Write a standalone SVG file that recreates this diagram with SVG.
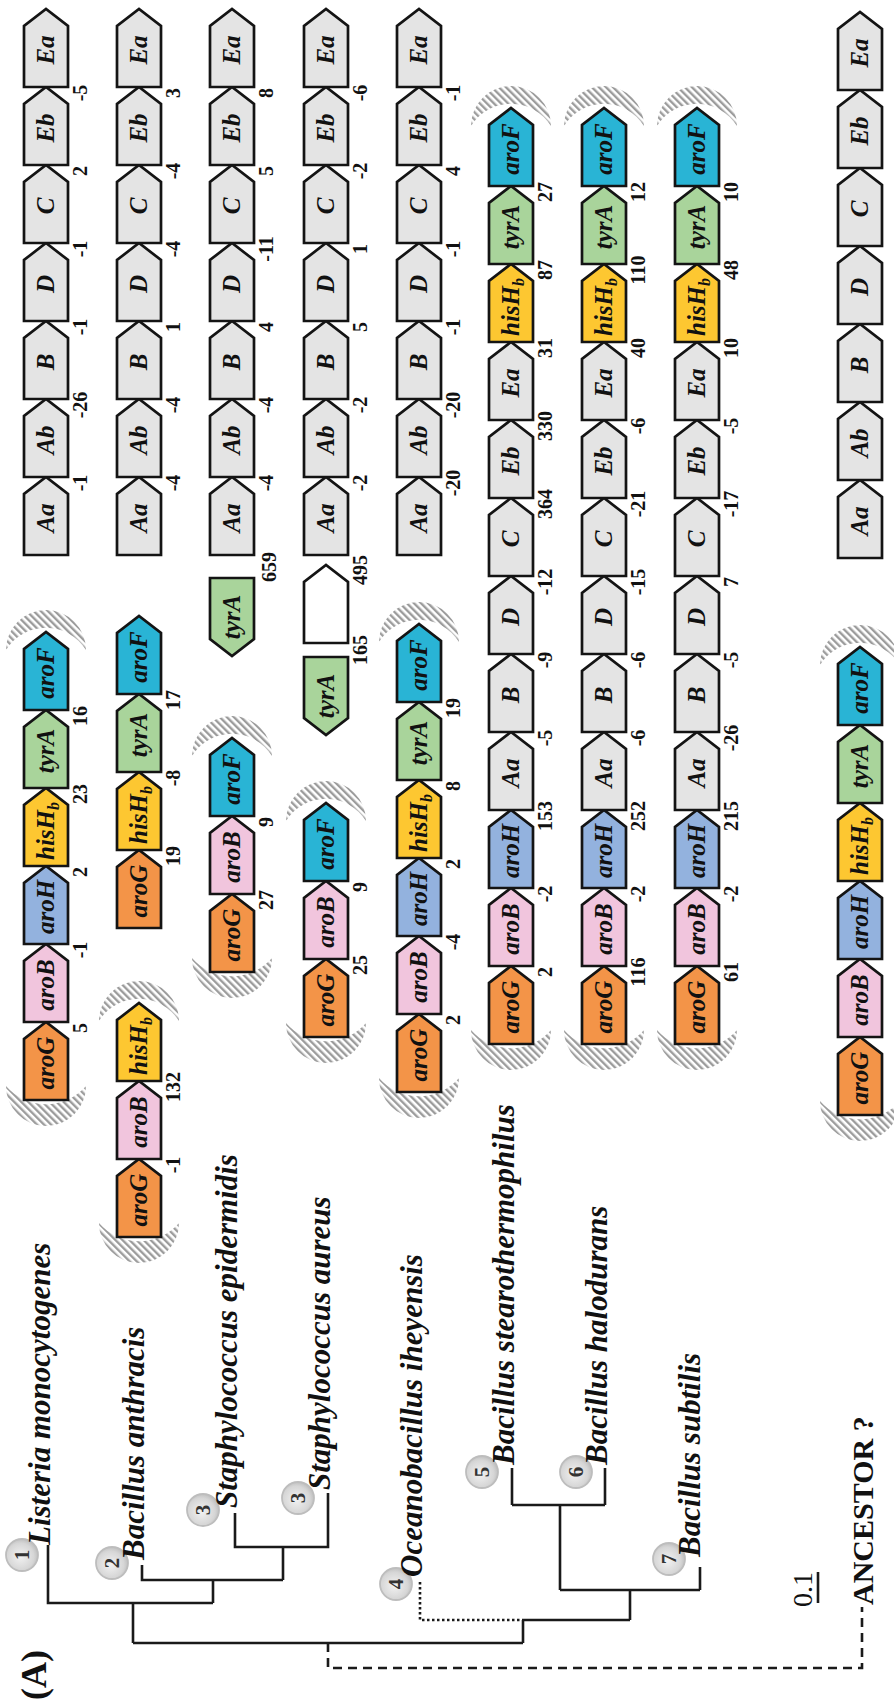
<svg xmlns="http://www.w3.org/2000/svg" xmlns:xlink="http://www.w3.org/1999/xlink" width="894" height="1704" viewBox="0 0 894 1704">
<style>
.s{stroke:#141414;stroke-width:2.7;stroke-linejoin:miter}
.gy{fill:#e4e4e4}.og{fill:#f39448}.pk{fill:#f1c5dd}.bl{fill:#93b2de}.ye{fill:#fdc731}.gr{fill:#a9d49b}.cy{fill:#29b4d5}.wh{fill:#ffffff}
.gl{font-family:"Liberation Serif",serif;font-weight:bold;font-style:italic;font-size:25px;text-anchor:middle;fill:#111}
.sub{font-size:16px}
.n{font-family:"Liberation Serif",serif;font-weight:bold;font-size:20px;text-anchor:middle;fill:#111}
.tx{font-family:"Liberation Serif",serif;font-weight:bold;font-style:italic;font-size:31px;fill:#111}
.ln{stroke:#1a1a1a;stroke-width:2.6;fill:none}
.dsh{stroke-dasharray:9,6}
.dot{stroke-dasharray:2.5,2.5}
.h{fill:url(#hatch)}
.cc{fill:url(#cg);stroke:#bdbdbd;stroke-width:1.8}
.cn{font-family:"Liberation Serif",serif;font-weight:bold;font-size:21px;text-anchor:middle;fill:#333}
</style>
<defs>
<path id="gene" d="M0,-22H61L78,0L61,22H0Z"/>
<path id="rgene" d="M0,-22H-61L-78,0L-61,22H0Z"/>
<pattern id="hatch" width="5" height="5" patternUnits="userSpaceOnUse" patternTransform="rotate(45)"><rect width="2.4" height="5" fill="#9c9c9c"/></pattern>
<path id="hl" d="M14,-40A40,40 0 1 0 14,40A53,53 0 0 1 14,-40Z"/>
<path id="hr" d="M-18,-40A40,40 0 1 1 -18,40A47,47 0 0 0 -18,-40Z"/>
<radialGradient id="cg" cx="0.45" cy="0.45" r="0.6"><stop offset="0" stop-color="#f2f2f2"/><stop offset="0.7" stop-color="#d6d6d6"/><stop offset="1" stop-color="#b8b8b8"/></radialGradient>
</defs>
<rect width="894" height="1704" fill="#ffffff"/>
<g transform="translate(0,1704) rotate(-90)">

<g id="hatching">
<use href="#hl" x="604" y="46" class="h"/><use href="#hr" x="1072" y="46" class="h"/>
<use href="#hl" x="467" y="139" class="h"/><use href="#hr" x="701" y="139" class="h"/>
<use href="#hl" x="732" y="232" class="h"/><use href="#hr" x="966" y="232" class="h"/>
<use href="#hl" x="667" y="326" class="h"/><use href="#hr" x="901" y="326" class="h"/>
<use href="#hl" x="612" y="419" class="h"/><use href="#hr" x="1080" y="419" class="h"/>
<use href="#hl" x="660" y="511" class="h"/><use href="#hr" x="1596" y="511" class="h"/>
<use href="#hl" x="660" y="604" class="h"/><use href="#hr" x="1596" y="604" class="h"/>
<use href="#hl" x="660" y="697" class="h"/><use href="#hr" x="1596" y="697" class="h"/>
<use href="#hl" x="589" y="860" class="h"/><use href="#hr" x="1057" y="860" class="h"/>
</g>

<g id="connectors">
<path class="ln" d="M159,48H101V213M61,133H101M61,133V523M139,142H124V283M101,213H124M191,235H157V328H211M124,283H157"/>
<path class="ln dot" d="M122,420H84V523"/>
<path class="ln" d="M84,523V630M61,523H84M84,630H114M114,560V700M137,700H114M114,560H199M199,512V605M236,512H199M236,605H199"/>
<path class="ln dsh" d="M61,328H36V862H97"/>
<path class="ln" d="M101,818H132" stroke-width="2"/>
</g>

<g id="tree-labels">
<text x="4" y="46" font-family="Liberation Serif, serif" font-weight="bold" font-size="36" fill="#111">(A)</text>
<g id="t1"><circle cx="149" cy="22" r="16" class="cc"/><text x="149" y="29" class="cn">1</text><text x="159" y="50" class="tx">Listeria monocytogenes</text></g>
<g id="t2"><circle cx="141" cy="112" r="16" class="cc"/><text x="141" y="119" class="cn">2</text><text x="144" y="144" class="tx">Bacillus anthracis</text></g>
<g id="t3"><circle cx="194" cy="203" r="16" class="cc"/><text x="194" y="210" class="cn">3</text><text x="196" y="237" class="tx">Staphylococcus epidermidis</text></g>
<g id="t4"><circle cx="206" cy="298" r="16" class="cc"/><text x="206" y="305" class="cn">3</text><text x="214" y="330" class="tx">Staphylococcus aureus</text></g>
<g id="t5"><circle cx="120" cy="396" r="16" class="cc"/><text x="120" y="403" class="cn">4</text><text x="127" y="422" class="tx">Oceanobacillus iheyensis</text></g>
<g id="t6"><circle cx="232" cy="482" r="16" class="cc"/><text x="232" y="489" class="cn">5</text><text x="239" y="514" class="tx">Bacillus stearothermophilus</text></g>
<g id="t7"><circle cx="232" cy="576" r="16" class="cc"/><text x="232" y="583" class="cn">6</text><text x="239" y="607" class="tx">Bacillus halodurans</text></g>
<g id="t8"><circle cx="145" cy="669" r="16" class="cc"/><text x="145" y="676" class="cn">7</text><text x="147" y="700" class="tx">Bacillus subtilis</text></g>
<text x="97" y="812" font-family="Liberation Serif, serif" font-size="28" fill="#111">0.1</text>
<text x="99" y="873" font-family="Liberation Serif, serif" font-weight="bold" font-size="30" fill="#111">ANCESTOR ?</text>
</g>

<g id="row1">
<g id="r1-aroG"><use href="#gene" x="604" y="46" class="s og"/><text x="641" y="54" class="gl">aroG</text></g>
<g id="r1-aroB"><use href="#gene" x="682" y="46" class="s pk"/><text x="719" y="54" class="gl">aroB</text></g>
<g id="r1-aroH"><use href="#gene" x="760" y="46" class="s bl"/><text x="797" y="54" class="gl">aroH</text></g>
<g id="r1-hisHb"><use href="#gene" x="838" y="46" class="s ye"/><text x="873" y="54" class="gl">hisH<tspan class="sub" dy="5">b</tspan></text></g>
<g id="r1-tyrA"><use href="#gene" x="916" y="46" class="s gr"/><text x="953" y="54" class="gl">tyrA</text></g>
<g id="r1-aroF"><use href="#gene" x="994" y="46" class="s cy"/><text x="1031" y="54" class="gl">aroF</text></g>
<g id="r1-Aa"><use href="#gene" x="1149" y="46" class="s gy"/><text x="1186" y="54" class="gl">Aa</text></g>
<g id="r1-Ab"><use href="#gene" x="1227" y="46" class="s gy"/><text x="1264" y="54" class="gl">Ab</text></g>
<g id="r1-B"><use href="#gene" x="1305" y="46" class="s gy"/><text x="1342" y="54" class="gl">B</text></g>
<g id="r1-D"><use href="#gene" x="1383" y="46" class="s gy"/><text x="1420" y="54" class="gl">D</text></g>
<g id="r1-C"><use href="#gene" x="1461" y="46" class="s gy"/><text x="1498" y="54" class="gl">C</text></g>
<g id="r1-Eb"><use href="#gene" x="1539" y="46" class="s gy"/><text x="1576" y="54" class="gl">Eb</text></g>
<g id="r1-Ea"><use href="#gene" x="1617" y="46" class="s gy"/><text x="1654" y="54" class="gl">Ea</text></g>
<g><text x="676" y="87" class="n">5</text><text x="754" y="87" class="n">-1</text><text x="832" y="87" class="n">2</text><text x="910" y="87" class="n">23</text><text x="988" y="87" class="n">16</text>
<text x="1221" y="87" class="n">-1</text><text x="1299" y="87" class="n">-26</text><text x="1377" y="87" class="n">-1</text><text x="1455" y="87" class="n">-1</text><text x="1533" y="87" class="n">2</text><text x="1611" y="87" class="n">-5</text></g>
</g>

<g id="row2">
<g id="r2-aroG1"><use href="#gene" x="467" y="139" class="s og"/><text x="504" y="147" class="gl">aroG</text></g>
<g id="r2-aroB1"><use href="#gene" x="545" y="139" class="s pk"/><text x="582" y="147" class="gl">aroB</text></g>
<g id="r2-hisHb1"><use href="#gene" x="623" y="139" class="s ye"/><text x="658" y="147" class="gl">hisH<tspan class="sub" dy="5">b</tspan></text></g>
<g id="r2-aroG2"><use href="#gene" x="776" y="139" class="s og"/><text x="813" y="147" class="gl">aroG</text></g>
<g id="r2-hisHb2"><use href="#gene" x="854" y="139" class="s ye"/><text x="889" y="147" class="gl">hisH<tspan class="sub" dy="5">b</tspan></text></g>
<g id="r2-tyrA"><use href="#gene" x="932" y="139" class="s gr"/><text x="969" y="147" class="gl">tyrA</text></g>
<g id="r2-aroF"><use href="#gene" x="1010" y="139" class="s cy"/><text x="1047" y="147" class="gl">aroF</text></g>
<g id="r2-Aa"><use href="#gene" x="1149" y="139" class="s gy"/><text x="1186" y="147" class="gl">Aa</text></g>
<g id="r2-Ab"><use href="#gene" x="1227" y="139" class="s gy"/><text x="1264" y="147" class="gl">Ab</text></g>
<g id="r2-B"><use href="#gene" x="1305" y="139" class="s gy"/><text x="1342" y="147" class="gl">B</text></g>
<g id="r2-D"><use href="#gene" x="1383" y="139" class="s gy"/><text x="1420" y="147" class="gl">D</text></g>
<g id="r2-C"><use href="#gene" x="1461" y="139" class="s gy"/><text x="1498" y="147" class="gl">C</text></g>
<g id="r2-Eb"><use href="#gene" x="1539" y="139" class="s gy"/><text x="1576" y="147" class="gl">Eb</text></g>
<g id="r2-Ea"><use href="#gene" x="1617" y="139" class="s gy"/><text x="1654" y="147" class="gl">Ea</text></g>
<g><text x="539" y="180" class="n">-1</text><text x="617" y="180" class="n">132</text><text x="848" y="180" class="n">19</text><text x="926" y="180" class="n">-8</text><text x="1004" y="180" class="n">17</text>
<text x="1221" y="180" class="n">-4</text><text x="1299" y="180" class="n">-4</text><text x="1377" y="180" class="n">1</text><text x="1455" y="180" class="n">-4</text><text x="1533" y="180" class="n">-4</text><text x="1611" y="180" class="n">3</text></g>
</g>

<g id="row3">
<g id="r3-aroG"><use href="#gene" x="732" y="232" class="s og"/><text x="769" y="240" class="gl">aroG</text></g>
<g id="r3-aroB"><use href="#gene" x="810" y="232" class="s pk"/><text x="847" y="240" class="gl">aroB</text></g>
<g id="r3-aroF"><use href="#gene" x="888" y="232" class="s cy"/><text x="925" y="240" class="gl">aroF</text></g>
<g id="r3-tyrA"><use href="#rgene" x="1126" y="232" class="s gr"/><text x="1087" y="240" class="gl">tyrA</text></g>
<g id="r3-Aa"><use href="#gene" x="1149" y="232" class="s gy"/><text x="1186" y="240" class="gl">Aa</text></g>
<g id="r3-Ab"><use href="#gene" x="1227" y="232" class="s gy"/><text x="1264" y="240" class="gl">Ab</text></g>
<g id="r3-B"><use href="#gene" x="1305" y="232" class="s gy"/><text x="1342" y="240" class="gl">B</text></g>
<g id="r3-D"><use href="#gene" x="1383" y="232" class="s gy"/><text x="1420" y="240" class="gl">D</text></g>
<g id="r3-C"><use href="#gene" x="1461" y="232" class="s gy"/><text x="1498" y="240" class="gl">C</text></g>
<g id="r3-Eb"><use href="#gene" x="1539" y="232" class="s gy"/><text x="1576" y="240" class="gl">Eb</text></g>
<g id="r3-Ea"><use href="#gene" x="1617" y="232" class="s gy"/><text x="1654" y="240" class="gl">Ea</text></g>
<g><text x="804" y="273" class="n">27</text><text x="882" y="273" class="n">9</text><text x="1137" y="276" class="n">659</text>
<text x="1221" y="273" class="n">-4</text><text x="1299" y="273" class="n">-4</text><text x="1377" y="273" class="n">4</text><text x="1455" y="273" class="n">-11</text><text x="1533" y="273" class="n">5</text><text x="1611" y="273" class="n">8</text></g>
</g>

<g id="row4">
<g id="r4-aroG"><use href="#gene" x="667" y="326" class="s og"/><text x="704" y="334" class="gl">aroG</text></g>
<g id="r4-aroB"><use href="#gene" x="745" y="326" class="s pk"/><text x="782" y="334" class="gl">aroB</text></g>
<g id="r4-aroF"><use href="#gene" x="823" y="326" class="s cy"/><text x="860" y="334" class="gl">aroF</text></g>
<g id="r4-tyrA"><use href="#rgene" x="1047" y="326" class="s gr"/><text x="1008" y="334" class="gl">tyrA</text></g>
<g id="r4-empty"><use href="#gene" x="1061" y="326" class="s wh"/></g>
<g id="r4-Aa"><use href="#gene" x="1149" y="326" class="s gy"/><text x="1186" y="334" class="gl">Aa</text></g>
<g id="r4-Ab"><use href="#gene" x="1227" y="326" class="s gy"/><text x="1264" y="334" class="gl">Ab</text></g>
<g id="r4-B"><use href="#gene" x="1305" y="326" class="s gy"/><text x="1342" y="334" class="gl">B</text></g>
<g id="r4-D"><use href="#gene" x="1383" y="326" class="s gy"/><text x="1420" y="334" class="gl">D</text></g>
<g id="r4-C"><use href="#gene" x="1461" y="326" class="s gy"/><text x="1498" y="334" class="gl">C</text></g>
<g id="r4-Eb"><use href="#gene" x="1539" y="326" class="s gy"/><text x="1576" y="334" class="gl">Eb</text></g>
<g id="r4-Ea"><use href="#gene" x="1617" y="326" class="s gy"/><text x="1654" y="334" class="gl">Ea</text></g>
<g><text x="739" y="367" class="n">25</text><text x="817" y="367" class="n">9</text><text x="1054" y="367" class="n">165</text><text x="1134" y="367" class="n">495</text>
<text x="1221" y="367" class="n">-2</text><text x="1299" y="367" class="n">-2</text><text x="1377" y="367" class="n">5</text><text x="1455" y="367" class="n">1</text><text x="1533" y="367" class="n">-2</text><text x="1611" y="367" class="n">-6</text></g>
</g>

<g id="row5">
<g id="r5-aroG"><use href="#gene" x="612" y="419" class="s og"/><text x="649" y="427" class="gl">aroG</text></g>
<g id="r5-aroB"><use href="#gene" x="690" y="419" class="s pk"/><text x="727" y="427" class="gl">aroB</text></g>
<g id="r5-aroH"><use href="#gene" x="768" y="419" class="s bl"/><text x="805" y="427" class="gl">aroH</text></g>
<g id="r5-hisHb"><use href="#gene" x="846" y="419" class="s ye"/><text x="881" y="427" class="gl">hisH<tspan class="sub" dy="5">b</tspan></text></g>
<g id="r5-tyrA"><use href="#gene" x="924" y="419" class="s gr"/><text x="961" y="427" class="gl">tyrA</text></g>
<g id="r5-aroF"><use href="#gene" x="1002" y="419" class="s cy"/><text x="1039" y="427" class="gl">aroF</text></g>
<g id="r5-Aa"><use href="#gene" x="1149" y="419" class="s gy"/><text x="1186" y="427" class="gl">Aa</text></g>
<g id="r5-Ab"><use href="#gene" x="1227" y="419" class="s gy"/><text x="1264" y="427" class="gl">Ab</text></g>
<g id="r5-B"><use href="#gene" x="1305" y="419" class="s gy"/><text x="1342" y="427" class="gl">B</text></g>
<g id="r5-D"><use href="#gene" x="1383" y="419" class="s gy"/><text x="1420" y="427" class="gl">D</text></g>
<g id="r5-C"><use href="#gene" x="1461" y="419" class="s gy"/><text x="1498" y="427" class="gl">C</text></g>
<g id="r5-Eb"><use href="#gene" x="1539" y="419" class="s gy"/><text x="1576" y="427" class="gl">Eb</text></g>
<g id="r5-Ea"><use href="#gene" x="1617" y="419" class="s gy"/><text x="1654" y="427" class="gl">Ea</text></g>
<g><text x="684" y="460" class="n">2</text><text x="762" y="460" class="n">-4</text><text x="840" y="460" class="n">2</text><text x="918" y="460" class="n">8</text><text x="996" y="460" class="n">19</text>
<text x="1221" y="460" class="n">-20</text><text x="1299" y="460" class="n">-20</text><text x="1377" y="460" class="n">-1</text><text x="1455" y="460" class="n">-1</text><text x="1533" y="460" class="n">4</text><text x="1611" y="460" class="n">-1</text></g>
</g>

<g id="row6">
<g id="r6-aroG"><use href="#gene" x="660" y="511" class="s og"/><text x="697" y="519" class="gl">aroG</text></g>
<g id="r6-aroB"><use href="#gene" x="738" y="511" class="s pk"/><text x="775" y="519" class="gl">aroB</text></g>
<g id="r6-aroH"><use href="#gene" x="816" y="511" class="s bl"/><text x="853" y="519" class="gl">aroH</text></g>
<g id="r6-Aa"><use href="#gene" x="894" y="511" class="s gy"/><text x="931" y="519" class="gl">Aa</text></g>
<g id="r6-B"><use href="#gene" x="972" y="511" class="s gy"/><text x="1009" y="519" class="gl">B</text></g>
<g id="r6-D"><use href="#gene" x="1050" y="511" class="s gy"/><text x="1087" y="519" class="gl">D</text></g>
<g id="r6-C"><use href="#gene" x="1128" y="511" class="s gy"/><text x="1165" y="519" class="gl">C</text></g>
<g id="r6-Eb"><use href="#gene" x="1206" y="511" class="s gy"/><text x="1243" y="519" class="gl">Eb</text></g>
<g id="r6-Ea"><use href="#gene" x="1284" y="511" class="s gy"/><text x="1321" y="519" class="gl">Ea</text></g>
<g id="r6-hisHb"><use href="#gene" x="1362" y="511" class="s ye"/><text x="1397" y="519" class="gl">hisH<tspan class="sub" dy="5">b</tspan></text></g>
<g id="r6-tyrA"><use href="#gene" x="1440" y="511" class="s gr"/><text x="1477" y="519" class="gl">tyrA</text></g>
<g id="r6-aroF"><use href="#gene" x="1518" y="511" class="s cy"/><text x="1555" y="519" class="gl">aroF</text></g>
<g><text x="732" y="552" class="n">2</text><text x="810" y="552" class="n">-2</text><text x="888" y="552" class="n">153</text><text x="966" y="552" class="n">-5</text><text x="1044" y="552" class="n">-9</text><text x="1122" y="552" class="n">-12</text><text x="1200" y="552" class="n">364</text><text x="1278" y="552" class="n">330</text><text x="1356" y="552" class="n">31</text><text x="1434" y="552" class="n">87</text><text x="1512" y="552" class="n">27</text></g>
</g>

<g id="row7">
<g id="r7-aroG"><use href="#gene" x="660" y="604" class="s og"/><text x="697" y="612" class="gl">aroG</text></g>
<g id="r7-aroB"><use href="#gene" x="738" y="604" class="s pk"/><text x="775" y="612" class="gl">aroB</text></g>
<g id="r7-aroH"><use href="#gene" x="816" y="604" class="s bl"/><text x="853" y="612" class="gl">aroH</text></g>
<g id="r7-Aa"><use href="#gene" x="894" y="604" class="s gy"/><text x="931" y="612" class="gl">Aa</text></g>
<g id="r7-B"><use href="#gene" x="972" y="604" class="s gy"/><text x="1009" y="612" class="gl">B</text></g>
<g id="r7-D"><use href="#gene" x="1050" y="604" class="s gy"/><text x="1087" y="612" class="gl">D</text></g>
<g id="r7-C"><use href="#gene" x="1128" y="604" class="s gy"/><text x="1165" y="612" class="gl">C</text></g>
<g id="r7-Eb"><use href="#gene" x="1206" y="604" class="s gy"/><text x="1243" y="612" class="gl">Eb</text></g>
<g id="r7-Ea"><use href="#gene" x="1284" y="604" class="s gy"/><text x="1321" y="612" class="gl">Ea</text></g>
<g id="r7-hisHb"><use href="#gene" x="1362" y="604" class="s ye"/><text x="1397" y="612" class="gl">hisH<tspan class="sub" dy="5">b</tspan></text></g>
<g id="r7-tyrA"><use href="#gene" x="1440" y="604" class="s gr"/><text x="1477" y="612" class="gl">tyrA</text></g>
<g id="r7-aroF"><use href="#gene" x="1518" y="604" class="s cy"/><text x="1555" y="612" class="gl">aroF</text></g>
<g><text x="732" y="645" class="n">116</text><text x="810" y="645" class="n">-2</text><text x="888" y="645" class="n">252</text><text x="966" y="645" class="n">-6</text><text x="1044" y="645" class="n">-6</text><text x="1122" y="645" class="n">-15</text><text x="1200" y="645" class="n">-21</text><text x="1278" y="645" class="n">-6</text><text x="1356" y="645" class="n">40</text><text x="1434" y="645" class="n">110</text><text x="1512" y="645" class="n">12</text></g>
</g>

<g id="row8">
<g id="r8-aroG"><use href="#gene" x="660" y="697" class="s og"/><text x="697" y="705" class="gl">aroG</text></g>
<g id="r8-aroB"><use href="#gene" x="738" y="697" class="s pk"/><text x="775" y="705" class="gl">aroB</text></g>
<g id="r8-aroH"><use href="#gene" x="816" y="697" class="s bl"/><text x="853" y="705" class="gl">aroH</text></g>
<g id="r8-Aa"><use href="#gene" x="894" y="697" class="s gy"/><text x="931" y="705" class="gl">Aa</text></g>
<g id="r8-B"><use href="#gene" x="972" y="697" class="s gy"/><text x="1009" y="705" class="gl">B</text></g>
<g id="r8-D"><use href="#gene" x="1050" y="697" class="s gy"/><text x="1087" y="705" class="gl">D</text></g>
<g id="r8-C"><use href="#gene" x="1128" y="697" class="s gy"/><text x="1165" y="705" class="gl">C</text></g>
<g id="r8-Eb"><use href="#gene" x="1206" y="697" class="s gy"/><text x="1243" y="705" class="gl">Eb</text></g>
<g id="r8-Ea"><use href="#gene" x="1284" y="697" class="s gy"/><text x="1321" y="705" class="gl">Ea</text></g>
<g id="r8-hisHb"><use href="#gene" x="1362" y="697" class="s ye"/><text x="1397" y="705" class="gl">hisH<tspan class="sub" dy="5">b</tspan></text></g>
<g id="r8-tyrA"><use href="#gene" x="1440" y="697" class="s gr"/><text x="1477" y="705" class="gl">tyrA</text></g>
<g id="r8-aroF"><use href="#gene" x="1518" y="697" class="s cy"/><text x="1555" y="705" class="gl">aroF</text></g>
<g><text x="732" y="738" class="n">61</text><text x="810" y="738" class="n">-2</text><text x="888" y="738" class="n">215</text><text x="966" y="738" class="n">-26</text><text x="1044" y="738" class="n">-5</text><text x="1122" y="738" class="n">7</text><text x="1200" y="738" class="n">-17</text><text x="1278" y="738" class="n">-5</text><text x="1356" y="738" class="n">10</text><text x="1434" y="738" class="n">48</text><text x="1512" y="738" class="n">10</text></g>
</g>

<g id="ancestor">
<g id="a-aroG"><use href="#gene" x="589" y="860" class="s og"/><text x="626" y="868" class="gl">aroG</text></g>
<g id="a-aroB"><use href="#gene" x="667" y="860" class="s pk"/><text x="704" y="868" class="gl">aroB</text></g>
<g id="a-aroH"><use href="#gene" x="745" y="860" class="s bl"/><text x="782" y="868" class="gl">aroH</text></g>
<g id="a-hisHb"><use href="#gene" x="823" y="860" class="s ye"/><text x="858" y="868" class="gl">hisH<tspan class="sub" dy="5">b</tspan></text></g>
<g id="a-tyrA"><use href="#gene" x="901" y="860" class="s gr"/><text x="938" y="868" class="gl">tyrA</text></g>
<g id="a-aroF"><use href="#gene" x="979" y="860" class="s cy"/><text x="1016" y="868" class="gl">aroF</text></g>
<g id="a-Aa"><use href="#gene" x="1146" y="860" class="s gy"/><text x="1183" y="868" class="gl">Aa</text></g>
<g id="a-Ab"><use href="#gene" x="1224" y="860" class="s gy"/><text x="1261" y="868" class="gl">Ab</text></g>
<g id="a-B"><use href="#gene" x="1302" y="860" class="s gy"/><text x="1339" y="868" class="gl">B</text></g>
<g id="a-D"><use href="#gene" x="1380" y="860" class="s gy"/><text x="1417" y="868" class="gl">D</text></g>
<g id="a-C"><use href="#gene" x="1458" y="860" class="s gy"/><text x="1495" y="868" class="gl">C</text></g>
<g id="a-Eb"><use href="#gene" x="1536" y="860" class="s gy"/><text x="1573" y="868" class="gl">Eb</text></g>
<g id="a-Ea"><use href="#gene" x="1614" y="860" class="s gy"/><text x="1651" y="868" class="gl">Ea</text></g>
</g>

</g>
</svg>
